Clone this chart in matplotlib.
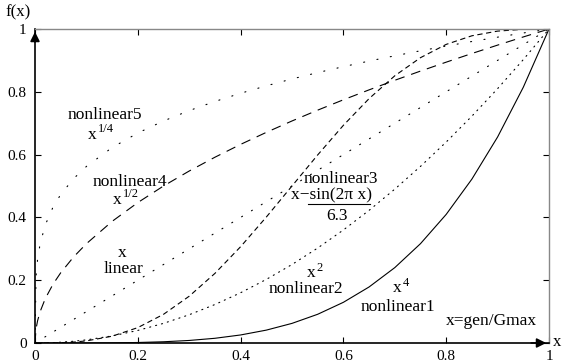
import matplotlib
matplotlib.use("Agg")
import matplotlib.pyplot as plt
from matplotlib.lines import Line2D

plt.rcParams['font.family'] = ['Liberation Serif', 'DejaVu Serif']
plt.rcParams['lines.scale_dashes'] = False

# x = gen/Gmax, sampled
x_vals = [0, 0.002, 0.005, 0.01, 0.02, 0.035, 0.05, 0.075, 0.1, 0.15, 0.2, 0.25, 0.3, 0.35,
          0.4, 0.45, 0.5, 0.55, 0.6, 0.65, 0.7, 0.75, 0.8, 0.85, 0.9, 0.95, 1.0]

nonlinear1 = [0, 0, 0, 0, 0, 0.0000015, 0.0000063, 0.0000316, 0.0001, 0.0005, 0.0016, 0.0039,
              0.0081, 0.0150, 0.0256, 0.0410, 0.0625, 0.0915, 0.1296, 0.1785, 0.2401, 0.3164,
              0.4096, 0.5220, 0.6561, 0.8145, 1.0]
nonlinear2 = [0, 0.000004, 0.000025, 0.0001, 0.0004, 0.0012, 0.0025, 0.0056, 0.01, 0.0225, 0.04,
              0.0625, 0.09, 0.1225, 0.16, 0.2025, 0.25, 0.3025, 0.36, 0.4225, 0.49, 0.5625, 0.64,
              0.7225, 0.81, 0.9025, 1.0]
linear = [0, 0.002, 0.005, 0.01, 0.02, 0.035, 0.05, 0.075, 0.1, 0.15, 0.2, 0.25, 0.3, 0.35,
          0.4, 0.45, 0.5, 0.55, 0.6, 0.65, 0.7, 0.75, 0.8, 0.85, 0.9, 0.95, 1.0]
nonlinear3 = [0, 0.000005, 0.000014, 0.000033, 0.0001, 0.0004, 0.0010, 0.0029, 0.0067, 0.0216,
              0.0490, 0.0913, 0.1490, 0.2216, 0.3067, 0.4010, 0.5, 0.5990, 0.6933, 0.7784,
              0.8510, 0.9087, 0.9510, 0.9784, 0.9933, 0.9990, 1.0]
nonlinear4 = [0, 0.0447, 0.0707, 0.1, 0.1414, 0.1871, 0.2236, 0.2739, 0.3162, 0.3873, 0.4472,
              0.5, 0.5477, 0.5916, 0.6325, 0.6708, 0.7071, 0.7416, 0.7746, 0.8062, 0.8367,
              0.8660, 0.8944, 0.9220, 0.9487, 0.9747, 1.0]
nonlinear5 = [0, 0.2115, 0.2659, 0.3162, 0.3761, 0.4325, 0.4729, 0.5233, 0.5623, 0.6223, 0.6687,
              0.7071, 0.7401, 0.7692, 0.7953, 0.8190, 0.8409, 0.8612, 0.8801, 0.8979, 0.9147,
              0.9306, 0.9457, 0.9602, 0.9740, 0.9873, 1.0]

ticks = [0, 0.2, 0.4, 0.6, 0.8, 1]
tick_labels = ['0', '0.2', '0.4', '0.6', '0.8', '1']

fig = plt.figure(figsize=(5.66, 3.64), dpi=100)
ax = fig.add_axes([35/566, 21/364, 514/566, 314/364])

lw = 0.8
ax.plot(x_vals, nonlinear1, color='k', lw=lw)
ax.plot(x_vals, nonlinear2, color='k', lw=lw, linestyle=(0, (0.8, 3.6)), dash_capstyle='round')
ax.plot(x_vals, linear, color='k', lw=lw, linestyle=(0, (0.8, 7.5)), dash_capstyle='round')
ax.plot(x_vals, nonlinear3, color='k', lw=lw, linestyle=(0, (3.8, 2.6)))
ax.plot(x_vals, nonlinear4, color='k', lw=lw, linestyle=(0, (7.0, 5.0)))
ax.plot(x_vals, nonlinear5, color='k', lw=lw, linestyle=(0, (0.8, 9.0)), dash_capstyle='round')

ax.set_xlim(0, 1)
ax.set_ylim(0, 1)
ax.set_xticks(ticks)
ax.set_xticklabels(tick_labels)
ax.set_yticks(ticks)
ax.set_yticklabels(tick_labels)
ax.tick_params(direction='in', length=4, width=0.8, labelsize=11, top=True, right=True,
               color='k')
ax.tick_params(axis='x', pad=5)
ax.tick_params(axis='y', pad=6)

for side in ['top', 'right']:
    ax.spines[side].set_color('#888888')
    ax.spines[side].set_linewidth(1.0)
for side in ['bottom', 'left']:
    ax.spines[side].set_linewidth(1.2)

# axis arrows
ax.annotate('', xy=(0, 1.0), xytext=(0, 0.95), xycoords='axes fraction',
            arrowprops=dict(arrowstyle='-|>', color='k', lw=1.2, mutation_scale=14))
ax.annotate('', xy=(1.0, 0), xytext=(0.96, 0), xycoords='axes fraction',
            arrowprops=dict(arrowstyle='-|>', color='k', lw=1.2, mutation_scale=14))

fig.text(18/566, 1 - 12/364, 'f(x)', ha='center', va='center', fontsize=12)
fig.text(553/566, 1 - 342/364, 'x', ha='left', va='center', fontsize=12)

fs = 12.5
sfs = 9


def power(x, y, sup):
    ax.text(x, y, 'x', ha='left', va='baseline', fontsize=fs)
    ax.annotate(sup, xy=(x, y), xytext=(7.0, 4.6), textcoords='offset points',
                ha='left', va='baseline', fontsize=sfs)


def label(x, y, s):
    ax.text(x, y, s, ha='center', va='baseline', fontsize=fs)


label(0.136, 0.714, 'nonlinear5')
power(0.103, 0.651, '1/4')
label(0.184, 0.501, 'nonlinear4')
power(0.152, 0.444, '1/2')
label(0.169, 0.275, 'x')
label(0.173, 0.224, 'linear')
label(0.595, 0.510, 'nonlinear3')
label(0.576, 0.458, 'x\u2212sin(2\u03c0 x)')
ax.add_line(Line2D([0.531, 0.652], [0.444, 0.444], transform=ax.transAxes, color='k', lw=0.8))
label(0.588, 0.393, '6.3')
power(0.529, 0.209, '2')
label(0.527, 0.160, 'nonlinear2')
power(0.697, 0.161, '4')
label(0.706, 0.103, 'nonlinear1')
label(0.887, 0.057, 'x=gen/Gmax')

fig.savefig('out.png', dpi=100)
